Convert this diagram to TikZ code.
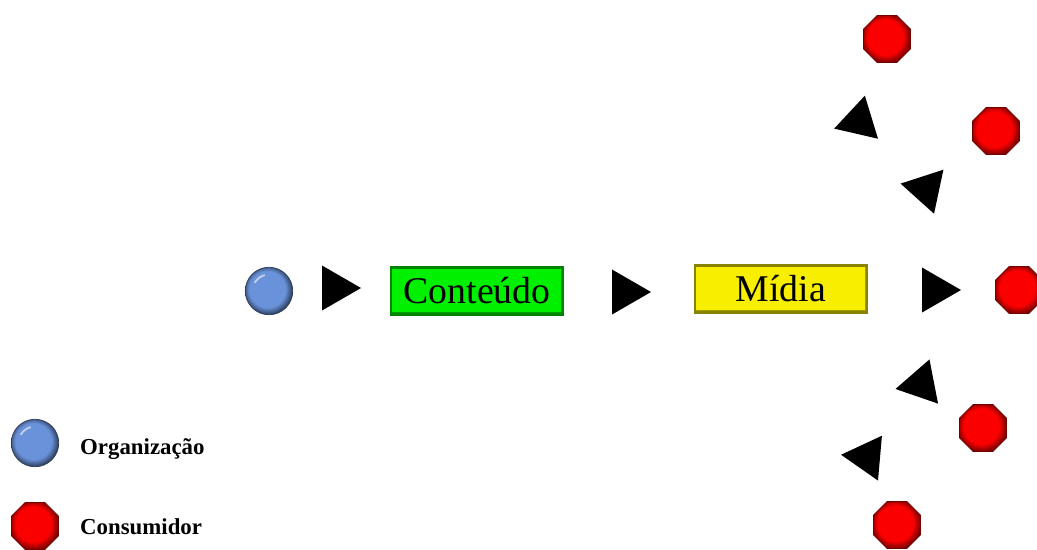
\documentclass[tikz,border=0pt]{standalone}
\usepackage{fontspec}
\setmainfont{Liberation Serif}
\usetikzlibrary{shapes.geometric}

\definecolor{orgblue}{RGB}{106,146,218}
\definecolor{consred}{RGB}{250,0,0}
\definecolor{contgreen}{RGB}{0,240,0}
\definecolor{midyellow}{RGB}{248,238,0}

% button look: flat face, darker rim towards the lower right
\pgfdeclareradialshading{orgbutton}{\pgfpoint{-3bp}{3bp}}{%
  color(0bp)=(orgblue); color(19bp)=(orgblue);
  color(24bp)=(orgblue!60!black); color(27bp)=(orgblue!35!black);
  color(50bp)=(orgblue!35!black)}
\pgfdeclareradialshading{consbutton}{\pgfpoint{-3bp}{3bp}}{%
  color(0bp)=(consred); color(19bp)=(consred);
  color(24bp)=(consred!65!black); color(28bp)=(consred!40!black);
  color(50bp)=(consred!40!black)}

\tikzset{
  org/.style={circle, shading=orgbutton, draw=orgblue!40!black, line width=0.4pt,
    minimum size=0.95cm, inner sep=0pt,
    path picture={\draw[white, opacity=.6, line width=1pt]
      (path picture bounding box.center) ++(150:0.33cm) arc[start angle=150, end angle=105, radius=0.33cm];}},
  cons/.style={regular polygon, regular polygon sides=8, shading=consbutton,
    draw=consred!45!black, line width=0.4pt, minimum size=1.02cm, inner sep=0pt},
  stage/.style={rectangle, line width=1.4pt, minimum width=3.44cm,
    minimum height=0.94cm, inner sep=0pt, font=\fontsize{21.5}{24}\selectfont,
    path picture={\draw[black, opacity=.35, line width=2.5pt]
      (path picture bounding box.south west) -| (path picture bounding box.north east);
      \draw[white, opacity=.45, line width=1.5pt]
      (path picture bounding box.south west) |- (path picture bounding box.north east);}},
  pointer/.style={regular polygon, regular polygon sides=3, fill=black,
    minimum size=1.04cm, inner sep=0pt},
  legend/.style={anchor=west, font=\fontsize{13}{15}\selectfont\bfseries}
}

\begin{document}
\begin{tikzpicture}[x=0.02cm, y=-0.02cm]
\useasboundingbox (0,0) rectangle (1037,549);

% chain from the organization to the media
\node[org] (org) at (269,291) {};
\node[pointer, rotate=-90] (p1) at (335,288) {};
\node[stage, fill=contgreen, draw=contgreen!55!black] (conteudo) at (477,291) {Conteúdo};
\node[pointer, rotate=-90] (p2) at (625,292) {};
\node[stage, fill=midyellow, draw=midyellow!55!black] (midia) at (781,289) {Mídia};
\node[pointer, rotate=-90] (p3) at (935,290) {};

% consumers
\node[cons] (c1) at (887,39) {};
\node[cons] (c2) at (996,131) {};
\node[cons] (c3) at (1019,290) {};
\node[cons] (c4) at (983,428) {};
\node[cons] (c5) at (897,525) {};

\node[pointer, rotate=107] (p4) at (859,121) {};
\node[pointer, rotate=78] (p5) at (926,189) {};
\node[pointer, rotate=101] (p6) at (921,384) {};
\node[pointer, rotate=85] (p7) at (867,457) {};

% legend
\node[org] (legorg) at (35,443) {};
\node[legend] (legorgtext) at (74,449) {Organização};
\node[cons] (legcons) at (35,526) {};
\node[legend] (legconstext) at (74,527) {Consumidor};
\end{tikzpicture}
\end{document}
